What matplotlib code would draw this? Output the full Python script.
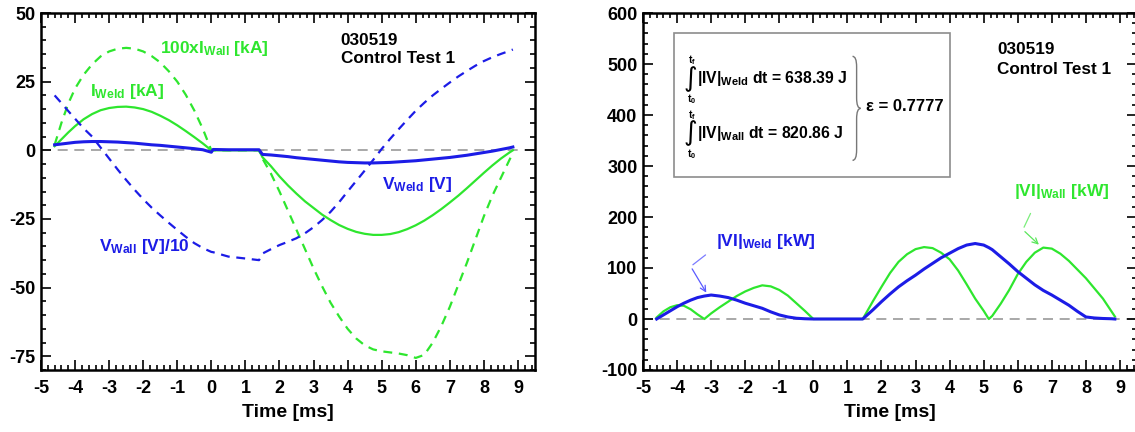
import matplotlib
matplotlib.use("Agg")
import matplotlib.pyplot as plt
from matplotlib.patches import Rectangle, PathPatch
from matplotlib.path import Path
from matplotlib.ticker import MultipleLocator
import matplotlib.transforms as mtransforms

plt.rcParams['font.family'] = ['Liberation Sans', 'DejaVu Sans']
plt.rcParams['font.weight'] = 'bold'
plt.rcParams['axes.unicode_minus'] = False
plt.rcParams['mathtext.fontset'] = 'custom'
plt.rcParams['mathtext.rm'] = 'Liberation Sans:bold'
plt.rcParams['mathtext.bf'] = 'Liberation Sans:bold'
plt.rcParams['mathtext.it'] = 'Liberation Sans:bold'
plt.rcParams['mathtext.default'] = 'bf'

GREEN = '#2ee62e'
BLUE = '#1c1ce6'

# ---- left panel: currents and voltages ----
t_left = [-4.6, -4.4, -4.2, -4.0, -3.75, -3.5, -3.25, -3.0, -2.75, -2.5, -2.25, -2.0,
          -1.75, -1.5, -1.25, -1.0, -0.75, -0.5, -0.25, 0.0,
          0.05, 0.5, 1.0, 1.4,
          1.5, 1.75, 2.0, 2.25, 2.5, 2.75, 3.0, 3.25, 3.5, 3.75, 4.0, 4.25, 4.5, 4.75,
          5.0, 5.25, 5.5, 5.75, 6.0, 6.25, 6.5, 6.75, 7.0, 7.25, 7.5, 7.75, 8.0, 8.25,
          8.5, 8.75, 8.85]
i_weld = [1.5, 4.0, 6.5, 8.8, 11.3, 13.2, 14.6, 15.4, 15.8, 15.9, 15.6, 15.0,
          14.0, 12.6, 11.0, 9.1, 7.0, 4.8, 2.5, 0.0,
          0.0, 0.0, 0.0, 0.0,
          -2.5, -5.8, -9.5, -12.8, -15.8, -18.6, -21.0, -23.4, -25.4, -27.2, -28.6, -29.7, -30.4, -30.8,
          -30.8, -30.5, -29.8, -28.7, -27.3, -25.6, -23.6, -21.4, -19.0, -16.5, -13.8, -11.0, -8.2, -5.5,
          -3.0, -0.8, 0.0]
i_wall100 = [2.0, 10.0, 17.0, 22.5, 27.5, 31.3, 34.2, 36.0, 37.0, 37.3, 37.0, 36.0,
             34.3, 32.0, 28.8, 25.0, 20.2, 14.5, 7.8, 0.0,
             0.0, 0.0, 0.0, 0.0,
             -3.0, -8.5, -15.0, -22.0, -29.0, -36.0, -43.0, -49.5, -55.5, -60.5, -65.0, -68.5, -71.0, -72.5,
             -73.2, -73.6, -74.0, -74.6, -75.6, -74.5, -70.0, -64.0, -57.0, -49.0, -41.0, -32.5, -24.0, -16.5,
             -10.0, -3.5, -1.0]
v_weld = [2.0, 2.3, 2.6, 2.9, 3.1, 3.2, 3.2, 3.1, 3.0, 2.8, 2.6, 2.3,
          2.0, 1.8, 1.5, 1.2, 0.9, 0.6, 0.2, -0.7,
          0.3, 0.2, 0.2, 0.2,
          -1.5, -1.7, -2.0, -2.3, -2.7, -3.0, -3.3, -3.6, -3.9, -4.2, -4.4, -4.5, -4.6, -4.6,
          -4.5, -4.4, -4.2, -4.0, -3.8, -3.5, -3.2, -2.9, -2.6, -2.2, -1.8, -1.3, -0.8, -0.3,
          0.3, 0.9, 1.2]
v_wall10 = [20.0, 17.2, 14.3, 11.5, 8.0, 5.0, 1.0, -3.0, -7.0, -10.8, -14.4, -17.8,
            -20.9, -23.7, -26.4, -29.0, -31.5, -33.8, -35.6, -37.0,
            -37.1, -38.7, -39.4, -40.0,
            -37.6, -36.0, -34.5, -33.3, -32.0, -30.2, -28.0, -25.4, -22.4, -18.9, -15.0, -11.2, -7.4, -3.5,
            0.5, 4.2, 7.7, 11.1, 14.4, 17.3, 20.0, 22.4, 24.7, 26.9, 28.9, 30.8, 32.5, 33.9,
            35.1, 36.2, 36.7]

# ---- right panel: absolute power ----
t_right = [-4.6, -4.4, -4.2, -4.0, -3.8, -3.6, -3.4, -3.2, -3.0, -2.75, -2.5, -2.25,
           -2.0, -1.75, -1.5, -1.25, -1.0, -0.75, -0.5, -0.25, 0.0, 0.7, 1.45,
           1.75, 2.0, 2.25, 2.5, 2.75, 3.0, 3.25, 3.5, 3.75, 4.0, 4.25, 4.5, 4.75,
           5.0, 5.15, 5.25, 5.5, 5.75, 6.0, 6.25, 6.5, 6.75, 7.0, 7.25, 7.5, 7.75,
           8.0, 8.25, 8.5, 8.75, 8.85]
p_weld = [0, 8, 16, 24, 31, 37, 42, 45, 47, 45, 42, 37,
          31, 26, 21, 14, 8, 4, 1.5, 0.5, 0, 0, 0,
          18, 34, 49, 63, 75, 86, 98, 109, 120, 129, 138, 145, 148,
          145, 140, 136, 122, 108, 93, 80, 67, 56, 47, 37, 27, 15,
          4, 2, 1, 0.5, 0]
p_wall = [3, 15, 23, 27, 26, 19, 9, 0, 11, 23, 34, 45,
          54, 61, 66, 64, 57, 46, 31, 16, 0, 0, 0,
          35, 63, 90, 112, 127, 137, 141, 139, 130, 117, 95, 68, 40,
          16, 0, 6, 30, 57, 88, 112, 130, 140, 138, 128, 114, 97,
          80, 60, 40, 15, 5]

energy_names = ['Weld', 'Wall']
energy_values = ['638.39', '820.86']
efficiency = '0.7777'

fig = plt.figure(figsize=(11.35, 4.32), dpi=100)
ax1 = fig.add_axes([41 / 1135, 1 - 370 / 432, 494 / 1135, 357 / 432])
ax2 = fig.add_axes([643 / 1135, 1 - 370 / 432, 494 / 1135, 357 / 432])


def style_axes(ax, ymajor, yminor):
    ax.set_xlim(-5, 9.5)
    ax.xaxis.set_major_locator(MultipleLocator(1))
    ax.xaxis.set_minor_locator(MultipleLocator(0.2))
    ax.yaxis.set_major_locator(MultipleLocator(ymajor))
    ax.yaxis.set_minor_locator(MultipleLocator(yminor))
    ax.tick_params(which='both', direction='in', top=True, right=True, width=1.2,
                   labelsize=13)
    ax.tick_params(axis='x', which='major', pad=7)
    ax.tick_params(axis='y', which='major', pad=4)
    ax.tick_params(which='major', length=7)
    ax.tick_params(which='minor', length=3.5)
    for lab in ax.get_xticklabels() + ax.get_yticklabels():
        lab.set_fontweight('bold')
    for s in ax.spines.values():
        s.set_linewidth(1.8)
    ax.set_xlabel('Time [ms]', fontsize=14, fontweight='bold', labelpad=5)
    ax.axhline(0, color='#999999', lw=1.2, ls=(0, (6, 4)), zorder=1)


# left panel
ax1.set_ylim(-80, 50)
style_axes(ax1, 25, 5)
ax1.plot(t_left, i_wall100, color=GREEN, lw=1.6, ls=(0, (4, 3)), zorder=3)
ax1.plot(t_left, i_weld, color=GREEN, lw=1.6, zorder=3)
ax1.plot(t_left, v_wall10, color=BLUE, lw=1.6, ls=(0, (4, 3)), zorder=3)
ax1.plot(t_left, v_weld, color=BLUE, lw=2.2, zorder=4)

ax1.text(-1.5, 37, r'$100xI_{Wall}$ [kA]', color=GREEN, fontsize=12.5, va='center')
ax1.text(-3.56, 21.5, r'$I_{Weld}$ [kA]', color=GREEN, fontsize=12.5, va='center')
ax1.text(5.0, -12.5, r'$V_{Weld}$ [V]', color=BLUE, fontsize=12.5, va='center')
ax1.text(-3.3, -35, r'$V_{Wall}$ [V]/10', color=BLUE, fontsize=12.5, va='center')
ax1.text(3.8, 40, '030519', color='black', fontsize=12.3, va='center')
ax1.text(3.8, 33.6, 'Control Test 1', color='black', fontsize=12.3, va='center')

# right panel
ax2.set_ylim(-100, 600)
style_axes(ax2, 100, 20)
ax2.plot(t_right, p_wall, color=GREEN, lw=1.6, zorder=3)
ax2.plot(t_right, p_weld, color=BLUE, lw=2.2, zorder=4)

ax2.text(5.4, 528, '030519', color='black', fontsize=12.3, va='center')
ax2.text(5.4, 490, 'Control Test 1', color='black', fontsize=12.3, va='center')

ax2.text(-2.85, 152, r'$|VI|_{Weld}$ [kW]', color=BLUE, fontsize=12.5, va='center')
ax2.text(5.88, 250, r'$|VI|_{Wall}$ [kW]', color=GREEN, fontsize=12.5, va='center')
ax2.annotate('', xy=(-3.6, 103), xytext=(-3.1, 129),
             arrowprops=dict(arrowstyle='-', color='#7b7bff', lw=0.9))
ax2.annotate('', xy=(-3.1, 47), xytext=(-3.6, 103),
             arrowprops=dict(arrowstyle='->', color='#5a5aff', lw=0.9))
ax2.annotate('', xy=(6.15, 175), xytext=(6.41, 212),
             arrowprops=dict(arrowstyle='-', color='#7bee7b', lw=0.9))
ax2.annotate('', xy=(6.68, 142), xytext=(6.15, 175),
             arrowprops=dict(arrowstyle='->', color='#5ae65a', lw=0.9))

# energy box
ax2.add_patch(Rectangle((-4.1, 279), 8.1, 281, facecolor='white', edgecolor='#8c8c8c',
                        lw=1.2, zorder=2))
for yc, name, val in zip([471, 364], energy_names, energy_values):
    ax2.text(-3.6, yc, '\u222b', family='DejaVu Sans', fontweight='normal', fontsize=19,
             ha='center', va='center', zorder=5)
    ax2.text(-3.55, yc + 36, r'$t_f$', fontsize=7.5, ha='center', va='center', zorder=5)
    ax2.text(-3.58, yc - 40, r'$t_0$', fontsize=7.5, ha='center', va='center', zorder=5)
    ax2.text(-3.42, yc, r'$|IV|_{%s}$ dt = %s J' % (name, val), fontsize=11.3,
             va='center', zorder=5)

# thin right brace drawn as a stroked path in a unit box
brace = Path([(0, 1), (0.5, 1), (0.5, 0.9), (0.5, 0.6), (0.5, 0.5), (1, 0.5),
              (0.5, 0.5), (0.5, 0.4), (0.5, 0.1), (0.5, 0), (0, 0)],
             [Path.MOVETO, Path.CURVE3, Path.CURVE3, Path.LINETO, Path.CURVE3, Path.CURVE3,
              Path.CURVE3, Path.CURVE3, Path.LINETO, Path.CURVE3, Path.CURVE3])
tr = mtransforms.Affine2D().scale(0.24, 204).translate(1.15, 311) + ax2.transData
ax2.add_patch(PathPatch(brace, transform=tr, facecolor='none', edgecolor='#777777',
                        lw=1.0, zorder=5))
ax2.text(1.55, 417, '\u03b5 = ' + efficiency, fontsize=12, va='center', zorder=5)

fig.savefig('out.png', dpi=100)
